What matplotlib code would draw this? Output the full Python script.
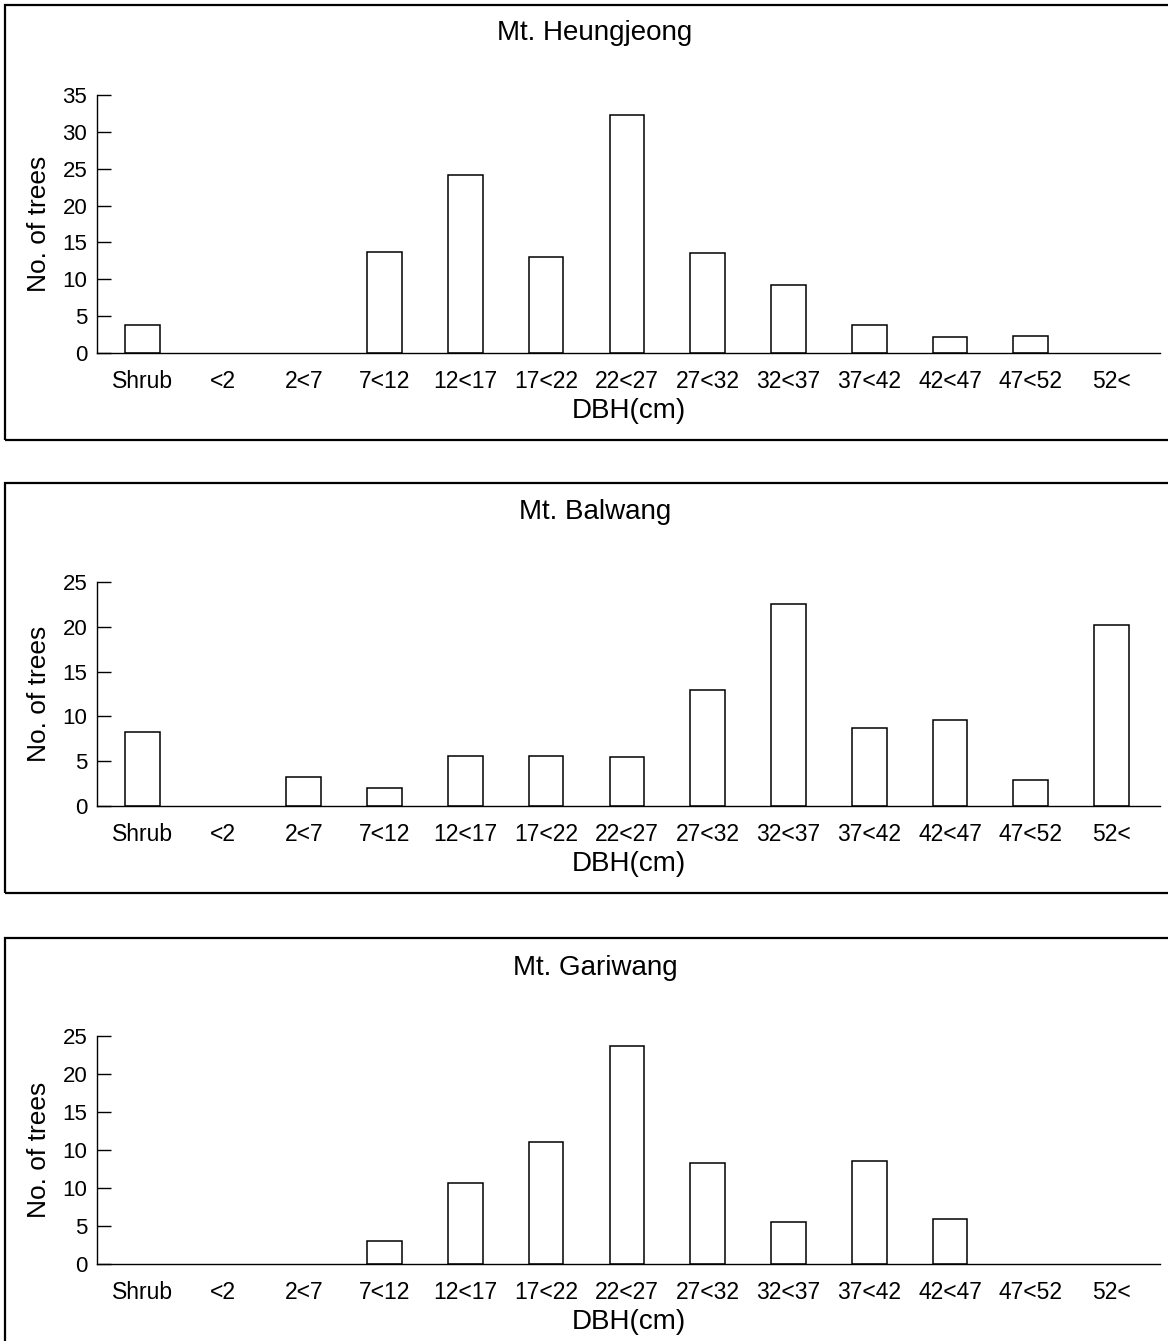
"""DBH class distribution of trees on three mountains, drawn as framed bar panels."""

import matplotlib
matplotlib.use("Agg")
import matplotlib.pyplot as plt
from matplotlib.patches import Rectangle

plt.rcParams["font.family"] = ["Liberation Sans", "DejaVu Sans"]

classes = ["Shrub", "<2", "2<7", "7<12", "12<17", "17<22", "22<27",
           "27<32", "32<37", "37<42", "42<47", "47<52", "52<"]

heungjeong = [3.8, 0, 0, 13.7, 24.2, 13.0, 32.3, 13.6, 9.2, 3.8, 2.2, 2.3, 0]
balwang = [8.3, 0, 3.2, 2.0, 5.6, 5.6, 5.5, 12.9, 22.5, 8.7, 9.6, 2.9, 20.2]
# third panel: values in axis units (the source's tick labels repeat "10")
gariwang = [0, 0, 0, 3.0, 10.6, 16.0, 28.7, 13.3, 5.5, 13.6, 5.9, 0, 0]

panels = [
    ("Mt. Heungjeong", heungjeong, 35, [0, 5, 10, 15, 20, 25, 30, 35],
     ["0", "5", "10", "15", "20", "25", "30", "35"]),
    ("Mt. Balwang", balwang, 25, [0, 5, 10, 15, 20, 25],
     ["0", "5", "10", "15", "20", "25"]),
    ("Mt. Gariwang", gariwang, 30, [0, 5, 10, 15, 20, 25, 30],
     ["0", "5", "10", "10", "15", "20", "25"]),
]

W, H = 1168, 1341
fig = plt.figure(figsize=(W / 100, H / 100), dpi=100)

# pixel layout: (frame top, frame bottom, axis top, axis bottom, title y)
layout = [
    (5, 440, 95, 353, 33),
    (483, 893, 582, 806, 512),
    (938, 1350, 1036, 1264, 968),
]
ax_left, ax_right = 97, 1160

for (title, values, ymax, ticks, ticklabels), (ft, fb, at, ab, ty) in zip(panels, layout):
    # outer frame of the panel
    fig.patches.append(Rectangle((5 / W, 1 - fb / H), 1.2, (fb - ft) / H,
                                 transform=fig.transFigure, fill=False,
                                 edgecolor="black", lw=1.6, clip_on=False))
    fig.text(595 / W, 1 - ty / H, title, ha="center", va="center", fontsize=20)

    ax = fig.add_axes([ax_left / W, 1 - ab / H, (ax_right - ax_left) / W, (ab - at) / H])
    x = range(len(classes))
    ec = ["black" if v > 0 else "none" for v in values]
    ax.bar(x, values, width=0.43, facecolor="white", edgecolor=ec, lw=1.1)
    ax.set_xlim(-0.56, 12.6)
    ax.set_ylim(0, ymax)
    ax.set_yticks(ticks)
    ax.set_yticklabels(ticklabels)
    ax.set_xticks(list(x))
    ax.set_xticklabels(classes)
    ax.tick_params(axis="x", length=0, pad=12, labelsize=16.5)
    ax.tick_params(axis="y", direction="in", length=10, width=1, pad=7, labelsize=16)
    for side in ("top", "right"):
        ax.spines[side].set_visible(False)
    for side in ("left", "bottom"):
        ax.spines[side].set_linewidth(1.0)
    ax.set_xlabel("DBH(cm)", fontsize=20, labelpad=4)
    ax.set_ylabel("No. of trees", fontsize=19)
    ax.yaxis.set_label_coords(-0.043, 0.5)

plt.savefig("out.png", dpi=100)
